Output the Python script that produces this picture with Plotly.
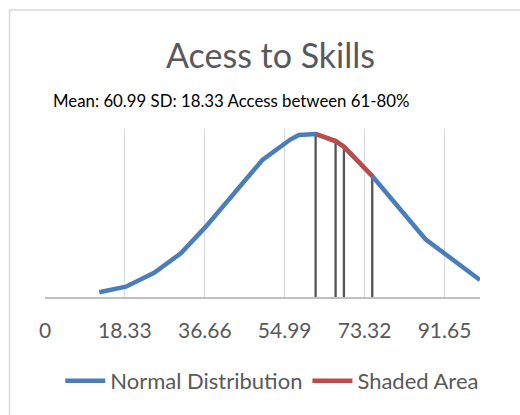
import plotly.graph_objects as go

# Normal distribution curve of access-to-skills scores (mean 60.99, SD 18.33)
dist_x = [12.44, 18.56, 25.04, 31.16, 36.89, 49.88, 56.36, 58.27, 62.09,
          66.67, 68.58, 75.08, 87.30, 99.8]
dist_y = [0.00063, 0.00138, 0.00325, 0.00585, 0.00942, 0.01835, 0.02112,
          0.02170, 0.02183, 0.02089, 0.02013, 0.01621, 0.00773, 0.00228]

# Portion of the curve between 61 and 80
shade_x = [62.09, 66.67, 68.58, 75.08]
shade_y = [0.02183, 0.02089, 0.02013, 0.01621]

tick_vals = [0, 18.33, 36.66, 54.99, 73.32, 91.65]
tick_text = ["0", "18.33", "36.66", "54.99", "73.32", "91.65"]

title_text = "Acess to Skills"
subtitle_text = "Mean: 60.99 SD: 18.33 Access between 61-80%"

W, H = 520, 415
L, R, T, B = 44.5, 40, 129, 118
PW, PH = W - L - R, H - T - B


def px(x):
    return (x - L) / PW


def py(y):
    return (H - B - y) / PH


FONT = "Lato, Calibri, sans-serif"
GREY = "#595959"

# vertical drop lines from the shaded points to the baseline
drop_x, drop_y = [], []
for xv, yv in zip(shade_x, shade_y):
    drop_x += [xv, xv, None]
    drop_y += [0, yv, None]

fig = go.Figure()
fig.add_trace(go.Scatter(x=drop_x, y=drop_y, mode="lines",
                         line=dict(color="#555555", width=2.3),
                         showlegend=False, hoverinfo="skip"))
fig.add_trace(go.Scatter(x=dist_x, y=dist_y, mode="lines",
                         name="Normal Distribution",
                         line=dict(color="#4A7EBB", width=4.5)))
fig.add_trace(go.Scatter(x=shade_x, y=shade_y, mode="lines",
                         name="Shaded Area",
                         line=dict(color="#BE4B48", width=4.5)))

fig.update_layout(
    width=W, height=H,
    margin=dict(l=L, r=R, t=T, b=B),
    paper_bgcolor="white", plot_bgcolor="white",
    font=dict(family=FONT, color=GREY),
    xaxis=dict(range=[0, 99.8], tickvals=tick_vals, ticktext=tick_text,
               showgrid=True, gridcolor="#D9D9D9", gridwidth=1.3,
               zeroline=False, showline=True, linecolor="#BFBFBF",
               linewidth=1.5, ticks="", ticklabelstandoff=14,
               tickfont=dict(size=21, color=GREY, family=FONT)),
    yaxis=dict(range=[0, 0.0225], showticklabels=False, showgrid=False,
               zeroline=False, showline=False),
    legend=dict(orientation="h", x=px(272), xanchor="center",
                y=py(381), yanchor="middle",
                font=dict(size=22, color=GREY, family=FONT),
                itemwidth=40, tracegroupgap=0),
    showlegend=True,
)

fig.add_annotation(text=title_text, xref="paper", yref="paper",
                   x=px(270), y=py(54), xanchor="center", yanchor="middle",
                   showarrow=False, font=dict(size=34, color=GREY, family=FONT))
fig.add_annotation(text=subtitle_text, xref="paper", yref="paper",
                   x=px(51), y=py(101), xanchor="left", yanchor="middle",
                   showarrow=False, font=dict(size=16.8, color="#000000", family=FONT))

# chart frame
fig.add_shape(type="rect", xref="paper", yref="paper",
              x0=px(9), x1=px(560), y0=py(10), y1=py(460),
              line=dict(color="#D9D9D9", width=1.5), fillcolor="rgba(0,0,0,0)",
              layer="below")

fig.write_html("out.html")
